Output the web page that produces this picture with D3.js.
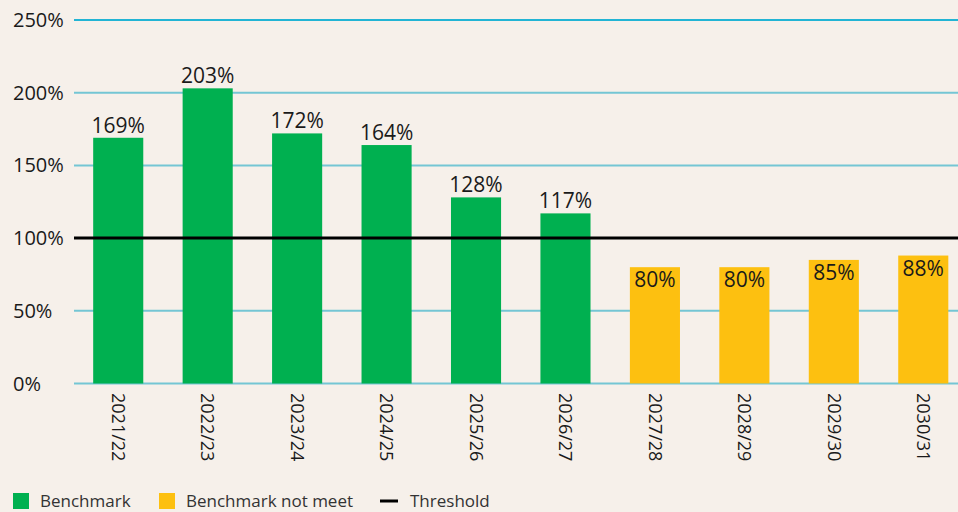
<!DOCTYPE html>
<html lang="en">
  <head>
    <meta charset="UTF-8" />
    <title>Benchmark vs threshold</title>
    <style>
      body { margin: 0; background: #f6f0ea; }
      svg { display: block; font-family: "Open Sans", "Noto Sans", sans-serif; }
    </style>
  </head>
  <body>
    <svg width="958" height="512"></svg>

    <script src="https://d3js.org/d3.v7.min.js"></script>
    <script>
      const years = ["2021/22", "2022/23", "2023/24", "2024/25", "2025/26",
                     "2026/27", "2027/28", "2028/29", "2029/30", "2030/31"];
      const values = [169, 203, 172, 164, 128, 117, 80, 80, 85, 88];
      const yTicks = [0, 50, 100, 150, 200, 250];
      const threshold = 100;
      const legendItems = ["Benchmark", "Benchmark not meet", "Threshold"];

      const green = "#00b050";
      const yellow = "#fdc010";

      const svg = d3.select("svg");

      const x = d3.scaleBand().domain(years).range([73.5, 968]).paddingInner(0.44).paddingOuter(0.22);
      const y = d3.scaleLinear().domain([0, 250]).range([383.5, 20]);

      // gridlines
      svg.append("g")
        .selectAll("line")
        .data(yTicks)
        .join("line")
        .attr("x1", 74)
        .attr("x2", 958)
        .attr("y1", d => y(d))
        .attr("y2", d => y(d))
        .attr("stroke", d => d === 250 ? "#22b4d4" : "#74c6d4")
        .attr("stroke-width", 2);

      // y labels
      svg.append("g")
        .selectAll("text")
        .data(yTicks)
        .join("text")
        .attr("x", 13)
        .attr("y", d => y(d))
        .attr("dy", "0.35em")
        .attr("font-size", 20)
        .attr("fill", "#1a1a1a")
        .text(d => d + "%");

      const met = d => d >= threshold;

      // bars
      svg.append("g")
        .selectAll("rect")
        .data(values)
        .join("rect")
        .attr("x", (d, i) => x(years[i]))
        .attr("width", x.bandwidth())
        .attr("y", d => y(d))
        .attr("height", d => y(0) - y(d))
        .attr("fill", d => met(d) ? green : yellow);

      // threshold line
      svg.append("line")
        .attr("x1", 74)
        .attr("x2", 958)
        .attr("y1", y(threshold))
        .attr("y2", y(threshold))
        .attr("stroke", "#000")
        .attr("stroke-width", 3);

      // value labels
      svg.append("g")
        .selectAll("text")
        .data(values)
        .join("text")
        .attr("x", (d, i) => x(years[i]) + x.bandwidth() / 2)
        .attr("y", d => met(d) ? y(d) - 5 : y(d) + 20)
        .attr("text-anchor", "middle")
        .attr("font-size", 21)
        .attr("fill", "#1a1a1a")
        .text(d => d + "%");

      // x labels, rotated
      svg.append("g")
        .selectAll("text")
        .data(years)
        .join("text")
        .attr("transform", d => `translate(${x(d) + x.bandwidth() / 2},393) rotate(90)`)
        .attr("dy", "0.35em")
        .attr("font-size", 18)
        .attr("fill", "#1a1a1a")
        .text(d => d);

      // legend
      const legend = svg.append("g").attr("transform", "translate(0,501)");
      const legendX = [13, 159, 380];
      legendItems.forEach((name, i) => {
        const g = legend.append("g").attr("transform", `translate(${legendX[i]},0)`);
        if (i < 2) {
          g.append("rect")
            .attr("y", -8)
            .attr("width", 16)
            .attr("height", 16)
            .attr("fill", i === 0 ? green : yellow);
        } else {
          g.append("line")
            .attr("x1", 0)
            .attr("x2", 18)
            .attr("stroke", "#000")
            .attr("stroke-width", 3);
        }
        g.append("text")
          .attr("x", i < 2 ? 27 : 30)
          .attr("dy", "0.35em")
          .attr("font-size", 17)
          .attr("fill", "#333")
          .text(name);
      });
    </script>
  </body>
</html>
